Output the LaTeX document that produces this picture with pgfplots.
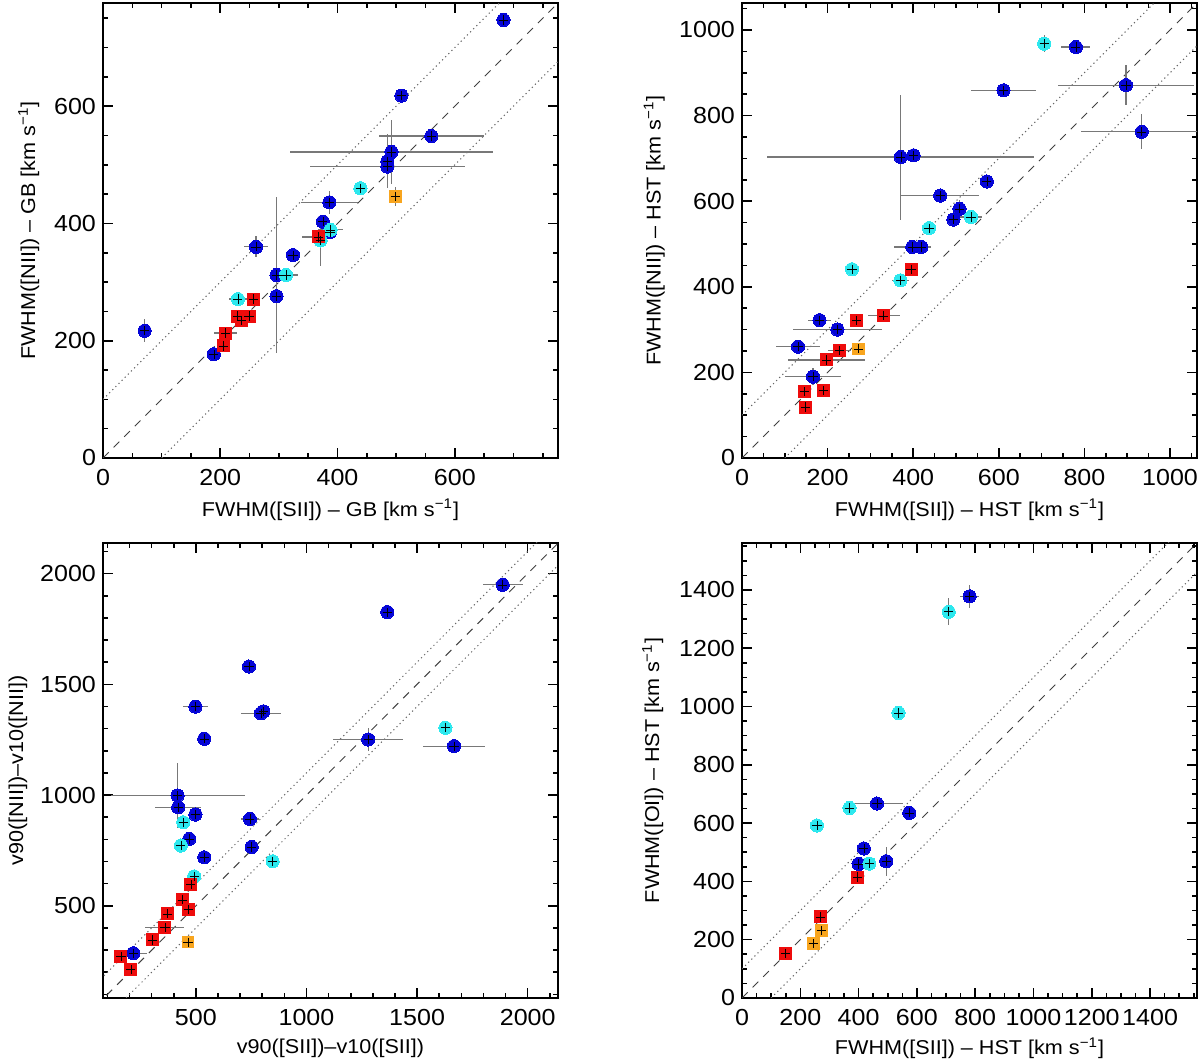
\documentclass[border=0pt]{standalone}
\usepackage{pgfplots}
\pgfplotsset{compat=1.18}
\usepackage{pgfplotstable}
\usepackage{fontspec}
\setmainfont[FakeStretch=1.08]{Liberation Sans}
\newcommand{\fsz}{\fontsize{11.6}{13.8}\selectfont}
\newcommand{\lsz}{\fontsize{12.3}{14.5}\selectfont}
\definecolor{myblue}{RGB}{5,5,215}
\definecolor{mycyan}{RGB}{45,232,238}
\definecolor{myred}{RGB}{238,12,12}
\definecolor{myorange}{RGB}{248,165,30}
\definecolor{errgray}{RGB}{120,120,120}

% Panel 1
\pgfplotstableread[row sep=\\]{
x y ex ey\\
71 217 0 20\\
189 177 0 0\\
261 360 20 18\\
296 312 0 133\\
296 276 0 77\\
324 346 0 0\\
375 403 0 0\\
386 436 49 20\\
387 385 0 0\\
485 506 0 46\\
485 497 132 0\\
492 522 173 55\\
509 618 0 0\\
560 549 90 0\\
683 747 0 0\\
}\pAb
\pgfplotstableread[row sep=\\]{
x y ex ey\\
230 271 15 0\\
312 312 20 0\\
371 371 0 43\\
388 389 22 0\\
439 460 0 0\\
}\pAc
\pgfplotstableread[row sep=\\]{
x y ex ey\\
206 191 0 0\\
209 213 19 0\\
229 242 0 0\\
236 235 0 0\\
249 242 0 0\\
256 271 12 0\\
367 377 27 0\\
}\pAr
\pgfplotstableread[row sep=\\]{
x y ex ey\\
499 446 0 16\\
}\pAo

% Panel 2
\pgfplotstableread[row sep=\\]{
x y ex ey\\
131 260 52 0\\
166 190 66 20\\
181 322 27 0\\
223 300 105 0\\
371 703 312 146\\
401 707 0 0\\
398 493 44 15\\
419 493 0 0\\
463 613 91 0\\
494 557 0 0\\
508 582 0 20\\
572 646 0 0\\
611 859 75 0\\
780 960 34 0\\
897 871 158 47\\
934 762 143 41\\
}\pBb
\pgfplotstableread[row sep=\\]{
x y ex ey\\
257 441 0 0\\
370 415 20 0\\
437 537 0 0\\
535 563 25 0\\
706 968 0 20\\
}\pBc
\pgfplotstableread[row sep=\\]{
x y ex ey\\
146 155 0 0\\
149 119 0 0\\
190 158 0 0\\
197 229 90 0\\
227 251 27 0\\
268 321 0 0\\
331 332 37 0\\
395 441 0 0\\
}\pBr
\pgfplotstableread[row sep=\\]{
x y ex ey\\
272 255 0 0\\
}\pBo

% Panel 3
\pgfplotstableread[row sep=\\]{
x y ex ey\\
217 286 64 0\\
417 998 303 147\\
420 945 103 0\\
498 912 0 0\\
470 802 0 0\\
538 719 0 0\\
498 1399 55 0\\
538 1254 0 0\\
740 1580 0 0\\
794 1369 92 0\\
805 1378 0 0\\
744 892 40 0\\
752 766 0 0\\
1279 1251 158 50\\
1365 1826 0 0\\
1667 1221 141 0\\
1887 1949 90 0\\
}\pCb
\pgfplotstableread[row sep=\\]{
x y ex ey\\
443 877 0 0\\
432 772 0 0\\
492 633 0 0\\
847 701 0 0\\
1628 1304 0 0\\
}\pCc
\pgfplotstableread[row sep=\\]{
x y ex ey\\
161 271 0 0\\
206 213 0 0\\
304 346 0 0\\
360 402 88 0\\
372 464 0 0\\
438 527 0 0\\
465 485 0 0\\
477 595 30 0\\
}\pCr
\pgfplotstableread[row sep=\\]{
x y ex ey\\
464 336 0 0\\
}\pCo

% Panel 4
\pgfplotstableread[row sep=\\]{
x y ex ey\\
781 1378 33 40\\
463 667 91 0\\
574 635 0 0\\
418 513 0 0\\
400 460 0 0\\
495 469 0 50\\
}\pDb
\pgfplotstableread[row sep=\\]{
x y ex ey\\
709 1325 0 46\\
537 978 0 0\\
369 652 0 0\\
257 592 0 0\\
437 461 0 0\\
}\pDc
\pgfplotstableread[row sep=\\]{
x y ex ey\\
149 154 0 0\\
269 278 0 0\\
397 415 0 0\\
}\pDr
\pgfplotstableread[row sep=\\]{
x y ex ey\\
272 232 0 0\\
246 186 0 0\\
}\pDo

\pgfplotsset{
  panel/.style={
    scale only axis, width=227.5pt, height=227.5pt, anchor=south west,
    tick align=inside, major tick length=5pt, minor tick length=2.5pt,
    axis line style={line width=0.9pt},
    every tick/.style={black, line width=0.8pt},
    tick label style={font=\fsz},
    label style={font=\lsz},
    /pgf/number format/assume math mode=true,
    /pgf/number format/1000 sep={},
    scaled ticks=false,
    xticklabel style={yshift=-2pt},
  },
  ylabpos/.style={every axis y label/.style={at={(axis description cs:#1,0.5)},rotate=90,anchor=center}},
  xlabpos/.style={every axis x label/.style={at={(axis description cs:0.5,#1)},anchor=center}},
  errs/.style={error bars/.cd, x dir=both, x explicit, y dir=both, y explicit,
    error mark=none, error bar style={errgray, line width=0.6pt}},
  bl/.style={color=myblue, only marks, mark=*, mark size=3.3pt, mark options={draw=myblue, fill=myblue, line width=0pt}, errs},
  cy/.style={color=mycyan, only marks, mark=*, mark size=3.3pt, mark options={draw=mycyan, fill=mycyan, line width=0pt}, errs},
  rd/.style={color=myred, only marks, mark=square*, mark size=3pt, mark options={draw=myred, fill=myred, line width=0pt}, errs},
  og/.style={color=myorange, only marks, mark=square*, mark size=2.9pt, mark options={draw=myorange, fill=myorange, line width=0pt}, errs},
  crs/.style={black, only marks, mark=+, mark size=2.3pt, mark options={black, line width=0.3pt}},
  oneone/.style={black!75, line width=0.5pt, dash pattern=on 4pt off 3.5pt},
  dotl/.style={black!60, line width=0.5pt, dash pattern=on 0.6pt off 1.6pt},
}

\newcommand{\series}[4]{%
  \addplot[bl] table[x=x,y=y,x error=ex,y error=ey]{#1};
  \addplot[cy] table[x=x,y=y,x error=ex,y error=ey]{#2};
  \addplot[rd] table[x=x,y=y,x error=ex,y error=ey]{#3};
  \addplot[og] table[x=x,y=y,x error=ex,y error=ey]{#4};
  \addplot[crs] table[x=x,y=y]{#1};
  \addplot[crs] table[x=x,y=y]{#2};
  \addplot[crs] table[x=x,y=y]{#3};
  \addplot[crs] table[x=x,y=y]{#4};
}
\newcommand{\reflines}{%
  \addplot[dotl] coordinates {(0,100) (2300,2400)};
  \addplot[dotl] coordinates {(100,0) (2400,2300)};
  \addplot[oneone] coordinates {(0,0) (2300,2300)};
}

\begin{document}
\begin{tikzpicture}
\useasboundingbox (0,0) rectangle (600pt,531.5pt);

% Panel 1
\begin{axis}[panel, at={(51.5pt,302.5pt)},
  xmin=0, xmax=776, ymin=0, ymax=776,
  xtick={0,200,400,600}, ytick={0,200,400,600},
  minor xtick={0,50,...,750}, minor ytick={0,50,...,750},
  xlabpos=-0.114, ylabpos=-0.163,
  xlabel={FWHM([SII]) – GB [km s\textsuperscript{−1}]},
  ylabel={FWHM([NII]) – GB [km s\textsuperscript{−1}]}]
\reflines
\series{\pAb}{\pAc}{\pAr}{\pAo}
\end{axis}

% Panel 2
\begin{axis}[panel, at={(371pt,302.5pt)},
  xmin=0, xmax=1063, ymin=0, ymax=1063,
  xtick={0,200,...,1000}, ytick={0,200,...,1000},
  minor xtick={0,50,...,1050}, minor ytick={0,50,...,1050},
  xlabpos=-0.114, ylabpos=-0.193,
  xlabel={FWHM([SII]) – HST [km s\textsuperscript{−1}]},
  ylabel={FWHM([NII]) – HST [km s\textsuperscript{−1}]}]
\reflines
\series{\pBb}{\pBc}{\pBr}{\pBo}
\end{axis}

% Panel 3
\begin{axis}[panel, at={(51.5pt,32.5pt)},
  xmin=80, xmax=2137, ymin=84, ymax=2138,
  xtick={500,1000,1500,2000}, ytick={500,1000,1500,2000},
  minor xtick={100,200,...,2100}, minor ytick={100,200,...,2100},
  xlabpos=-0.110, ylabpos=-0.187,
  xlabel={v90([SII])–v10([SII])},
  ylabel={v90([NII])–v10([NII])}]
\reflines
\series{\pCb}{\pCc}{\pCr}{\pCo}
\end{axis}

% Panel 4
\begin{axis}[panel, at={(371pt,32.5pt)},
  xmin=0, xmax=1561, ymin=0, ymax=1561,
  xtick={0,200,...,1400}, ytick={0,200,...,1400},
  minor xtick={0,50,...,1550}, minor ytick={0,50,...,1550},
  xlabpos=-0.110, ylabpos=-0.196,
  xlabel={FWHM([SII]) – HST [km s\textsuperscript{−1}]},
  ylabel={FWHM([OI]) – HST [km s\textsuperscript{−1}]}]
\reflines
\series{\pDb}{\pDc}{\pDr}{\pDo}
\end{axis}
\end{tikzpicture}
\end{document}
